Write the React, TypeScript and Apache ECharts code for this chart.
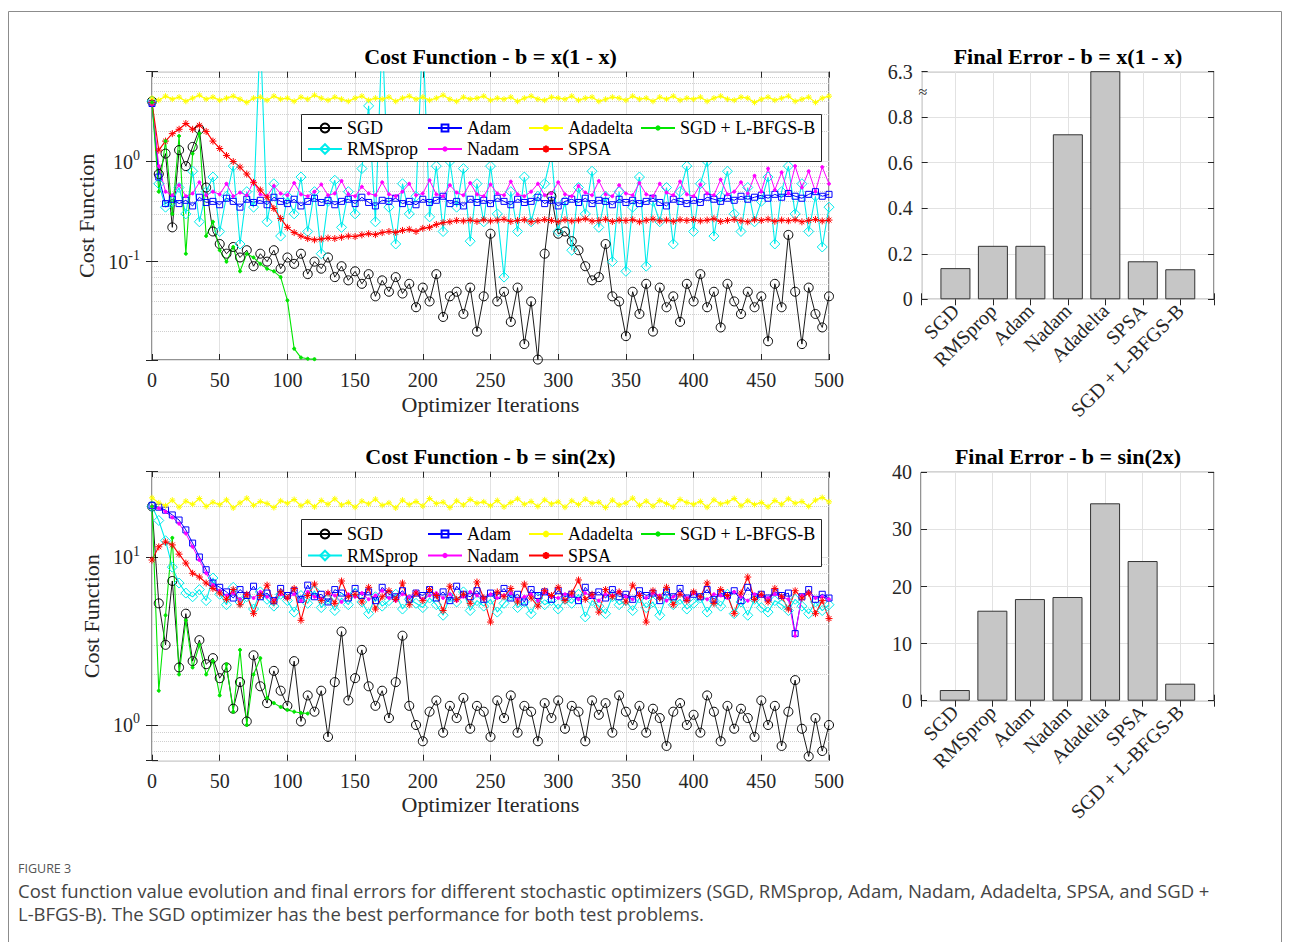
import React, { useEffect, useRef } from 'react';
import * as echarts from 'echarts';

// ---------------- DATA ----------------
const ITER = [
  0, 5, 10, 15, 20, 25, 30, 35, 40, 45,
  50, 55, 60, 65, 70, 75, 80, 85, 90, 95,
  100, 105, 110, 115, 120, 125, 130, 135, 140, 145,
  150, 155, 160, 165, 170, 175, 180, 185, 190, 195,
  200, 205, 210, 215, 220, 225, 230, 235, 240, 245,
  250, 255, 260, 265, 270, 275, 280, 285, 290, 295,
  300, 305, 310, 315, 320, 325, 330, 335, 340, 345,
  350, 355, 360, 365, 370, 375, 380, 385, 390, 395,
  400, 405, 410, 415, 420, 425, 430, 435, 440, 445,
  450, 455, 460, 465, 470, 475, 480, 485, 490, 495,
  500,
];

const OPTIMIZERS = ['SGD', 'RMSprop', 'Adam', 'Nadam', 'Adadelta', 'SPSA', 'SGD + L-BFGS-B'];

// Problem 1: b = x(1 - x)
const T_SGD = [
  4.0, 0.75, 1.2, 0.22, 1.3, 0.9, 1.4, 2.1, 0.55, 0.2,
  0.15, 0.12, 0.14, 0.11, 0.13, 0.09, 0.12, 0.1, 0.13, 0.085,
  0.11, 0.095, 0.12, 0.075, 0.1, 0.085, 0.11, 0.07, 0.09, 0.065,
  0.08, 0.06, 0.075, 0.045, 0.065, 0.05, 0.07, 0.048, 0.06, 0.035,
  0.055, 0.04, 0.075, 0.028, 0.045, 0.05, 0.03, 0.055, 0.02, 0.045,
  0.19, 0.04, 0.05, 0.025, 0.055, 0.015, 0.04, 0.0105, 0.12, 0.45,
  0.19, 0.2, 0.16, 0.13, 0.09, 0.065, 0.07, 0.15, 0.045, 0.04,
  0.018, 0.05, 0.03, 0.06, 0.02, 0.055, 0.035, 0.045, 0.025, 0.06,
  0.04, 0.075, 0.035, 0.05, 0.022, 0.06, 0.04, 0.03, 0.05, 0.035,
  0.045, 0.016, 0.06, 0.035, 0.185, 0.05, 0.015, 0.055, 0.03, 0.022,
  0.045,
];
const T_RMSPROP = [
  4.0, 0.6, 0.35, 0.4, 0.55, 0.3, 0.8, 0.25, 0.5, 0.7,
  0.2, 0.45, 0.9, 0.15, 0.5, 0.35, 20, 0.25, 0.6, 0.18,
  0.45, 0.3, 0.7, 0.2, 0.5, 0.12, 0.4, 0.65, 0.22, 0.5,
  0.3, 0.85, 3.6, 0.25, 20, 0.35, 0.15, 0.6, 0.3, 0.45,
  20, 0.28, 0.9, 0.2, 1.0, 0.35, 0.85, 0.16, 0.6, 0.25,
  0.9, 0.3, 0.07, 0.5, 0.2, 0.7, 0.25, 0.45, 0.6, 1.2,
  0.2, 0.4, 0.13, 0.55, 0.3, 0.8, 0.22, 0.45, 0.1, 0.5,
  0.08, 0.35, 0.7, 0.09, 0.4, 0.25, 0.55, 0.15, 0.5, 0.9,
  0.2, 0.6, 1.0, 0.18, 0.45, 0.8, 0.3, 0.2, 0.55, 0.25,
  0.4, 0.7, 0.15, 0.5, 0.9, 0.3, 0.6, 0.2, 0.45, 0.14,
  0.35,
];
const T_ADAM = [
  3.8, 0.7, 0.38, 0.42, 0.38, 0.41, 0.36, 0.44, 0.39, 0.4,
  0.37, 0.43, 0.4, 0.35, 0.42, 0.39, 0.41, 0.37, 0.44, 0.4,
  0.38, 0.42, 0.36, 0.4, 0.43, 0.39, 0.41, 0.37, 0.4, 0.42,
  0.38, 0.44, 0.39, 0.36, 0.41, 0.4, 0.43, 0.38, 0.4, 0.37,
  0.42, 0.39, 0.41, 0.45, 0.38, 0.4, 0.36, 0.42, 0.39, 0.41,
  0.38, 0.43, 0.4, 0.37, 0.42, 0.39, 0.4, 0.44, 0.38, 0.41,
  0.36, 0.4, 0.42, 0.39, 0.43, 0.38, 0.41, 0.4, 0.37, 0.42,
  0.39, 0.41, 0.38, 0.4, 0.43, 0.39, 0.36, 0.42, 0.4, 0.38,
  0.41, 0.39, 0.44, 0.42, 0.4, 0.43, 0.41, 0.45, 0.42, 0.44,
  0.46, 0.43, 0.47, 0.44, 0.48, 0.45, 0.43, 0.47, 0.5, 0.45,
  0.47,
];
const T_NADAM = [
  3.7, 0.9, 0.5, 0.46, 0.58, 0.45, 0.48, 0.62, 0.46, 0.5,
  0.47, 0.6, 0.45, 0.49, 0.46, 0.63, 0.47, 0.45, 0.57, 0.48,
  0.46, 0.61, 0.47, 0.45, 0.5, 0.59, 0.46, 0.48, 0.64, 0.47,
  0.45, 0.56, 0.48, 0.46, 0.62, 0.47, 0.45, 0.5, 0.6, 0.46,
  0.48, 0.65, 0.47, 0.45, 0.58, 0.49, 0.46, 0.61, 0.47, 0.45,
  0.59, 0.48, 0.46, 0.63, 0.47, 0.45, 0.5, 0.6, 0.46, 0.48,
  0.62, 0.47, 0.45, 0.57, 0.49, 0.46, 0.64, 0.47, 0.45, 0.58,
  0.48, 0.46, 0.61, 0.47, 0.45, 0.6, 0.49, 0.46, 0.63, 0.47,
  0.45, 0.59, 0.48, 0.46, 0.66, 0.47, 0.5, 0.62, 0.48, 0.72,
  0.5, 0.85, 0.52, 0.78, 0.48, 0.9, 0.55, 0.8, 0.5, 0.88,
  0.6,
];
const T_ADADELTA = [
  4.3, 4.1, 4.5, 4.2, 4.4, 4.0, 4.3, 4.6, 4.2, 4.4,
  4.1, 4.3, 4.5, 4.2, 3.9, 4.3, 4.4, 4.1, 4.5, 4.2,
  4.3, 4.0, 4.4, 4.2, 4.6, 4.3, 4.1, 4.4, 4.2, 4.0,
  4.3, 4.5, 4.1, 4.3, 4.2, 4.4, 4.0, 4.3, 4.5, 4.2,
  4.4, 4.1, 4.3, 4.6, 4.2, 4.0, 4.4, 4.2, 4.3, 4.5,
  4.1, 4.3, 4.2, 4.4, 4.0, 4.3, 4.5, 4.2, 4.1, 4.4,
  4.3, 4.2, 4.5, 4.1, 4.3, 4.4, 4.0, 4.2, 4.4, 4.3,
  4.1, 4.5, 4.2, 4.3, 4.0, 4.4, 4.2, 4.5, 4.1, 4.3,
  4.2, 4.4, 4.0, 4.3, 4.5, 4.2, 4.1, 4.4, 4.3, 3.9,
  4.2, 4.4, 4.1, 4.3, 4.5, 4.0, 4.2, 4.4, 3.9, 4.3,
  4.5,
];
const T_SPSA = [
  3.9, 1.3, 1.6, 1.9, 2.1, 2.4, 2.1, 2.3, 2.0, 1.6,
  1.35, 1.15, 1.0, 0.88, 0.75, 0.62, 0.52, 0.44, 0.34, 0.27,
  0.22, 0.195, 0.18, 0.17, 0.165, 0.168, 0.172, 0.17, 0.175, 0.18,
  0.178, 0.185, 0.19, 0.186, 0.195, 0.2, 0.196, 0.205, 0.21, 0.2,
  0.215, 0.22, 0.235, 0.245, 0.25, 0.258, 0.255, 0.26, 0.252, 0.262,
  0.255, 0.26, 0.265, 0.252, 0.258, 0.262, 0.25, 0.256, 0.263, 0.258,
  0.25, 0.262, 0.255, 0.26, 0.268, 0.254, 0.258, 0.265, 0.252, 0.26,
  0.257, 0.262, 0.25, 0.259, 0.266, 0.255, 0.26, 0.253, 0.262, 0.258,
  0.263, 0.255, 0.26, 0.268, 0.252, 0.258, 0.264, 0.256, 0.25, 0.262,
  0.258, 0.265, 0.253, 0.26, 0.256, 0.262, 0.25, 0.258, 0.264, 0.255,
  0.26,
];
const T_LBFGS = [
  3.9, 0.5, 1.6, 0.3, 1.8, 0.12, 1.2, 1.9, 0.18, 0.25,
  0.13, 0.1, 0.14, 0.08, 0.12, 0.11, 0.095, 0.085, 0.08, 0.07,
  0.041, 0.0135, 0.011, 0.0107, 0.0106,
];

// Problem 2: b = sin(2x)
const B_SGD = [
  20, 5.3, 3.0, 7.2, 2.2, 4.6, 2.4, 3.2, 2.3, 2.5,
  1.9, 2.2, 1.25, 1.8, 1.05, 2.6, 1.7, 1.35, 2.1, 1.6,
  1.3, 2.4, 1.05, 1.5, 1.2, 1.6, 0.85, 1.8, 3.6, 1.4,
  1.9, 2.8, 1.7, 1.3, 1.6, 1.1, 1.8, 3.4, 1.3, 1.0,
  0.8, 1.2, 1.4, 0.9, 1.3, 1.1, 1.45, 0.95, 1.3, 1.2,
  0.85, 1.4, 1.1, 1.5, 0.9, 1.3, 1.2, 0.8, 1.35, 1.1,
  1.4, 0.95, 1.3, 1.2, 0.8, 1.4, 1.15, 1.35, 0.9, 1.5,
  1.2, 1.0, 1.3, 0.9, 1.25, 1.1, 0.75, 1.2, 1.35, 1.0,
  1.15, 0.9, 1.5, 1.2, 0.8, 1.3, 0.95, 1.25, 1.1, 0.85,
  1.4, 1.0, 1.3, 0.75, 1.2, 1.85, 0.95, 0.65, 1.1, 0.7,
  1.0,
];
const B_RMSPROP = [
  20, 16.5, 12.5, 8.7, 7.0, 6.1, 5.8, 6.4, 5.5, 7.5,
  6.0, 5.2, 6.6, 5.4, 5.8, 4.9, 6.2, 5.6, 5.1, 6.0,
  5.5, 4.7, 5.9, 5.3, 6.3, 5.0, 5.6, 4.8, 5.7, 5.2,
  6.1, 5.4, 4.6, 5.8, 5.1, 5.5, 6.0, 4.9, 5.6, 5.3,
  5.0, 5.7, 5.2, 4.5, 5.8, 5.4, 6.2, 4.8, 5.5, 5.1,
  5.6, 4.7, 5.3, 5.9, 5.0, 5.4, 4.6, 5.7, 5.2, 5.5,
  4.9, 5.6, 5.3, 6.0, 4.4, 5.5, 5.1, 4.6, 5.8, 5.2,
  5.5, 4.8, 5.7, 5.0, 5.4, 4.5, 5.9, 5.2, 5.6, 4.9,
  5.3, 5.7, 4.7, 5.5, 5.1, 6.0, 4.6, 5.4, 4.5, 5.6,
  5.0, 4.7, 5.5, 5.2, 4.8, 5.6, 5.1, 4.6, 5.4, 4.8,
  5.2,
];
const B_ADAM = [
  20.3, 19.8, 19.0, 17.8, 16.6, 14.5, 12.1, 10.0, 8.4, 7.0,
  6.6, 6.2, 5.7, 6.4, 5.9, 6.7, 5.8, 6.1, 5.5, 6.5,
  5.9, 6.3, 5.6, 6.8, 5.8, 6.0, 5.4, 6.4, 6.1, 5.7,
  6.5, 5.9, 6.2, 5.5, 6.6, 6.0, 5.8, 6.3, 5.6, 6.1,
  5.9, 6.4, 5.7, 6.2, 5.5, 6.7, 6.0, 5.8, 6.3, 5.6,
  6.1, 5.9, 6.5, 5.7, 6.0, 5.4, 6.4, 5.9, 6.2, 5.6,
  6.3, 5.8, 6.0, 5.5, 6.6, 5.9, 6.2, 5.7, 6.4, 5.8,
  6.0, 5.6, 6.3, 5.9, 6.1, 5.5, 6.2, 5.8, 6.5, 5.7,
  6.0, 5.8, 6.4, 5.6, 6.1, 5.9, 6.3, 5.5, 6.6, 5.8,
  6.0, 5.7, 6.2, 5.9, 6.1, 3.5, 5.8, 6.4, 5.6, 6.0,
  5.7,
];
const B_NADAM = [
  20.0, 19.5, 18.6, 17.2, 15.8, 13.8, 11.5, 9.6, 8.0, 6.8,
  6.3, 5.9, 6.1, 5.6, 6.0, 5.7, 6.2, 5.8, 5.5, 6.0,
  5.7, 6.0, 5.5, 6.2, 5.8, 5.6, 6.1, 5.9, 5.4, 6.0,
  5.8, 6.1, 5.6, 5.9, 6.3, 5.7, 5.5, 6.0, 5.8, 6.2,
  5.6, 5.9, 6.1, 5.7, 6.0, 5.5, 5.8, 6.2, 5.9, 5.6,
  6.0, 5.7, 5.9, 6.1, 5.6, 5.8, 6.0, 5.5, 6.2, 5.8,
  5.7, 6.0, 5.9, 5.6, 6.1, 5.8, 5.5, 6.0, 5.9, 6.2,
  5.8, 5.6, 6.0, 5.7, 6.1, 5.9, 5.5, 5.8, 6.0, 5.7,
  6.1, 5.8, 5.6, 6.0, 5.9, 5.7, 6.2, 5.8, 5.5, 6.0,
  5.9, 5.7, 6.0, 5.8, 5.6, 3.4, 5.9, 6.1, 5.7, 5.8,
  5.6,
];
const B_ADADELTA = [
  22.5, 21.0, 20.2, 21.8, 19.8, 21.5, 20.6, 22.3, 20.0, 21.2,
  20.5, 21.9, 19.6, 21.0, 22.4, 20.3, 21.4, 20.8, 19.7, 21.6,
  20.9, 22.0, 20.2, 21.3, 19.9, 21.7, 20.6, 22.2, 20.4, 21.1,
  19.8, 21.5, 20.7, 22.1, 20.3, 21.0, 19.6, 21.8, 20.5, 21.4,
  20.1, 22.3, 20.8, 21.2, 19.7, 21.6, 20.4, 22.0, 20.9, 21.3,
  20.2, 21.7, 19.9, 21.1, 22.2, 20.6, 21.4, 20.0, 21.9, 20.7,
  21.3, 19.8, 21.6, 20.5, 22.1, 20.9, 21.2, 19.7, 21.8, 20.4,
  21.0, 22.4, 20.3, 21.5, 20.1, 21.7, 20.8, 19.9, 22.0, 21.1,
  20.6, 21.4, 19.8, 21.9, 20.7, 21.2, 22.3, 20.2, 21.6, 20.5,
  21.1, 19.9, 21.7, 20.6, 22.2, 20.9, 21.4, 20.0, 21.8, 22.6,
  21.3,
];
const B_SPSA = [
  9.6, 11.5, 12.3, 11.8, 10.4, 9.2, 8.0, 7.6, 7.0, 6.5,
  6.1, 5.6, 6.4, 5.2, 6.0, 4.6, 5.9, 6.8, 5.4, 6.2,
  5.7, 6.5, 4.2, 5.9, 6.9, 5.5, 6.1, 5.3, 7.2, 5.8,
  6.0, 5.4, 6.6, 4.9, 5.8, 6.3, 5.6, 7.0, 5.2, 6.1,
  5.5, 6.4, 5.9, 4.8, 6.7, 5.6, 6.0, 5.3, 7.1, 5.7,
  4.1, 6.2, 5.8, 6.5, 5.4, 6.9, 5.7, 5.1, 6.3, 5.9,
  6.6, 5.5, 6.1, 7.3, 5.6, 6.0, 4.7, 6.4, 5.8, 6.2,
  5.4, 6.8, 5.9, 4.1, 6.3, 5.7, 6.6, 5.2, 6.0, 5.5,
  6.2, 5.8, 7.0, 5.3, 6.4, 5.9, 4.6, 6.1, 7.6, 5.6,
  6.0, 5.4, 6.5, 5.8, 4.9, 6.3, 5.7, 6.1, 4.6, 5.5,
  4.3,
];
const B_LBFGS = [
  20, 1.6, 4.5, 13, 2.0, 4.2, 2.2, 3.0, 2.0, 2.4,
  1.5, 2.3, 1.2, 2.8, 1.0, 2.0, 2.5, 1.45, 1.35, 1.28,
  1.23, 1.2, 1.18, 1.17,
];

// Final errors (bar charts)
const BAR_POS = [1, 2, 3, 4, 5, 6, 7];
const FINAL_ERR_XX = [0.137, 0.235, 0.235, 0.725, 6.3, 0.167, 0.132];
const FINAL_ERR_SIN = [1.87, 15.76, 17.8, 18.16, 34.57, 24.46, 2.98];

// Minor (dotted) log grid levels
const MINOR_XX = [0.02, 0.03, 0.04, 0.05, 0.06, 0.07, 0.08, 0.09, 0.2, 0.3, 0.4, 0.5, 0.6, 0.7, 0.8, 0.9, 2, 3, 4, 5, 6, 7];
const MINOR_SIN = [0.7, 0.8, 0.9, 2, 3, 4, 5, 6, 7, 8, 9, 20, 30];

// ---------------- STYLE ----------------
const SERIF = '"Liberation Serif", "Times New Roman", Times, serif';
const SANS = '"Open Sans", "Noto Sans", sans-serif';
const AX = '#262626';
const GRID_C = '#e2e2e2';
const MINOR_C = '#cfcfcf';
const STAR = 'path://M5,0L5,10M0,5L10,5M1.5,1.5L8.5,8.5M8.5,1.5L1.5,8.5';
const CLEAR = 'rgba(0,0,0,0)';

const STYLES: Record<string, any> = {
  'SGD': { color: '#000000', symbol: 'circle', size: 9, hollow: true, width: 0.9, legendH: 11 },
  'RMSprop': { color: '#00ecec', symbol: 'diamond', size: 10, hollow: true, width: 1.1, legendH: 12 },
  'Adam': { color: '#0000ff', symbol: 'rect', size: 6, hollow: true, width: 1, legendH: 8.5 },
  'Nadam': { color: '#ff00ff', symbol: 'circle', size: 3, hollow: false, width: 1, legendH: 4 },
  'Adadelta': { color: '#ffff00', symbol: STAR, size: 6, hollow: true, width: 1.2, legendH: 8 },
  'SPSA': { color: '#ff0000', symbol: STAR, size: 7, hollow: true, width: 1.1, legendH: 9 },
  'SGD + L-BFGS-B': { color: '#00e600', symbol: 'circle', size: 3, hollow: false, width: 1.1, legendH: 4 },
};

function lineSeries(name: string, values: number[], axisIndex: number) {
  const s = STYLES[name];
  return {
    name,
    type: 'line',
    xAxisIndex: axisIndex,
    yAxisIndex: axisIndex,
    data: values.map((v, i) => [ITER[i], v]),
    symbol: s.symbol,
    symbolSize: s.size,
    showSymbol: true,
    showAllSymbol: true,
    clip: true,
    lineStyle: { color: s.color, width: s.width },
    itemStyle: { color: s.hollow ? CLEAR : s.color, borderColor: s.color, borderWidth: 1 },
    emphasis: { disabled: true },
    z: 2,
  };
}

function minorGridSeries(levels: number[], axisIndex: number) {
  return {
    type: 'line',
    xAxisIndex: axisIndex,
    yAxisIndex: axisIndex,
    data: [],
    silent: true,
    z: 1,
    markLine: {
      silent: true,
      z: 1,
      symbol: ['none', 'none'],
      label: { show: false },
      lineStyle: { type: 'dotted', color: MINOR_C, width: 1 },
      emphasis: { disabled: true },
      data: levels.map((v) => ({ yAxis: v })),
    },
  };
}

const isPow10 = (v: number) => {
  const l = Math.log10(v);
  return Math.abs(l - Math.round(l)) < 1e-6;
};
const logLabel = (v: number) => (isPow10(v) ? `{b|10}{e|${Math.round(Math.log10(v))}}` : '');

const tickStyle = { inside: true, length: 6, lineStyle: { color: AX, width: 1 } };
const labelBase = { color: AX, fontFamily: SERIF, fontSize: 20 };

function iterXAxes(gridIndex: number) {
  return [
    {
      type: 'value', gridIndex, min: 0, max: 500, interval: 50, position: 'bottom',
      axisLine: { show: false }, axisTick: tickStyle,
      axisLabel: { ...labelBase, margin: 10 },
      splitLine: { show: true, lineStyle: { color: GRID_C, width: 1 } },
      name: 'Optimizer Iterations', nameLocation: 'middle', nameGap: 33,
      nameTextStyle: { color: AX, fontFamily: SERIF, fontSize: 22 },
    },
    {
      type: 'value', gridIndex, min: 0, max: 500, interval: 50, position: 'top',
      axisLine: { show: false }, axisTick: tickStyle, axisLabel: { show: false }, splitLine: { show: false },
    },
  ];
}

function logYAxes(gridIndex: number, min: number, max: number) {
  return [
    {
      type: 'log', logBase: 10, gridIndex, min, max, position: 'left',
      axisLine: { show: false }, axisTick: tickStyle,
      axisLabel: {
        formatter: logLabel, margin: 12,
        rich: {
          b: { fontFamily: SERIF, fontSize: 20, color: AX },
          e: { fontFamily: SERIF, fontSize: 14, color: AX, padding: [0, 0, 12, 0] },
        },
      },
      splitLine: { show: true, lineStyle: { color: GRID_C, width: 1 } },
      name: 'Cost Function', nameLocation: 'middle', nameGap: 48,
      nameTextStyle: { color: AX, fontFamily: SERIF, fontSize: 22 },
    },
    {
      type: 'log', logBase: 10, gridIndex, min, max, position: 'right',
      axisLine: { show: false }, axisTick: tickStyle, axisLabel: { show: false }, splitLine: { show: false },
    },
  ];
}

function barXAxes(gridIndex: number) {
  return [
    {
      type: 'value', gridIndex, min: 0.1, max: 7.9, splitNumber: 8, position: 'bottom',
      axisLine: { show: false }, axisTick: tickStyle,
      axisLabel: {
        ...labelBase, margin: 8, rotate: 45,
        formatter: (v: number) => {
          const i = BAR_POS.indexOf(Math.round(v * 1000) / 1000);
          return i >= 0 ? OPTIMIZERS[i] : '';
        },
      },
      splitLine: { show: true, lineStyle: { color: GRID_C, width: 1 } },
    },
    {
      type: 'value', gridIndex, min: 0.1, max: 7.9, splitNumber: 8, position: 'top',
      axisLine: { show: false }, axisTick: tickStyle, axisLabel: { show: false }, splitLine: { show: false },
    },
  ];
}

function barYAxes(gridIndex: number, max: number, interval: number, fmt: (v: number) => string) {
  return [
    {
      type: 'value', gridIndex, min: 0, max, interval, position: 'left',
      axisLine: { show: false }, axisTick: tickStyle,
      axisLabel: { ...labelBase, margin: 9, formatter: fmt },
      splitLine: { show: true, lineStyle: { color: GRID_C, width: 1 } },
    },
    {
      type: 'value', gridIndex, min: 0, max, interval, position: 'right',
      axisLine: { show: false }, axisTick: tickStyle, axisLabel: { show: false }, splitLine: { show: false },
    },
  ];
}

// one legend component per entry so that each entry's marker keeps its own size;
// a fixed text line height (20) keeps every entry centred on its row.
function legends(row1: number, row2: number) {
  const layout: [string, number, number][] = [
    ['SGD', 307, row1], ['RMSprop', 307, row2],
    ['Adam', 427, row1], ['Nadam', 427, row2],
    ['Adadelta', 528, row1], ['SPSA', 528, row2],
    ['SGD + L-BFGS-B', 640, row1],
  ];
  return layout.map(([name, left, cy]) => ({
    orient: 'vertical', left, top: cy - 10, padding: 0,
    itemWidth: 34, itemHeight: STYLES[name].legendH, selectedMode: false, z: 20,
    textStyle: { fontFamily: SERIF, fontSize: 18, color: '#000', lineHeight: 20, height: 20 },
    data: [name],
  }));
}

const titleStyle = { fontFamily: SERIF, fontSize: 22, fontWeight: 'bold', color: '#000', lineHeight: 22 };

export default function App() {
  const ref = useRef<HTMLDivElement>(null);

  useEffect(() => {
    if (!ref.current) return;
    const chart = echarts.init(ref.current, null, { renderer: 'svg' });

    const grid = [
      { left: 152, top: 71.7, width: 677, height: 288.3 },
      { left: 921.7, top: 71.7, width: 292.3, height: 227.6 },
      { left: 152, top: 471.7, width: 677, height: 289 },
      { left: 921, top: 472.3, width: 293, height: 228.4 },
    ].map((g) => ({ ...g, show: true, borderColor: AX, borderWidth: 1, backgroundColor: 'transparent', containLabel: false }));

    const xAxis = [...iterXAxes(0), ...barXAxes(1), ...iterXAxes(2), ...barXAxes(3)];
    const yAxis = [
      ...logYAxes(0, 0.0104, 7.9),
      ...barYAxes(1, 1, 0.2, (v: number) => (v > 0.99 ? '6.3' : v === 0 ? '0' : String(Math.round(v * 10) / 10))),
      ...logYAxes(2, 0.613, 32.2),
      ...barYAxes(3, 40, 10, (v: number) => String(v)),
    ];

    const topSets = [T_SGD, T_RMSPROP, T_ADAM, T_NADAM, T_ADADELTA, T_SPSA, T_LBFGS];
    const botSets = [B_SGD, B_RMSPROP, B_ADAM, B_NADAM, B_ADADELTA, B_SPSA, B_LBFGS];

    const barStyle = { color: '#c6c6c6', borderColor: '#333333', borderWidth: 1 };

    const series: any[] = [
      minorGridSeries(MINOR_XX, 0),
      ...OPTIMIZERS.map((n, i) => lineSeries(n, topSets[i], 0)),
      {
        type: 'bar', xAxisIndex: 2, yAxisIndex: 2, barWidth: 30, clip: true,
        data: BAR_POS.map((p, i) => [p, FINAL_ERR_XX[i]]), itemStyle: barStyle, emphasis: { disabled: true },
      },
      minorGridSeries(MINOR_SIN, 4),
      ...OPTIMIZERS.map((n, i) => lineSeries(n, botSets[i], 4)),
      {
        type: 'bar', xAxisIndex: 6, yAxisIndex: 6, barWidth: 30, clip: true,
        data: BAR_POS.map((p, i) => [p, FINAL_ERR_SIN[i]]), itemStyle: barStyle, emphasis: { disabled: true },
      },
    ];

    const option: any = {
      animation: false,
      backgroundColor: '#ffffff',
      title: [
        { text: 'Cost Function - b = x(1 - x)', left: 490.5, top: 45, textAlign: 'center', padding: 0, textStyle: titleStyle },
        { text: 'Final Error - b = x(1 - x)', left: 1068, top: 45, textAlign: 'center', padding: 0, textStyle: titleStyle },
        { text: 'Cost Function - b = sin(2x)', left: 490.5, top: 445, textAlign: 'center', padding: 0, textStyle: titleStyle },
        { text: 'Final Error - b = sin(2x)', left: 1068, top: 445, textAlign: 'center', padding: 0, textStyle: titleStyle },
      ],
      legend: [...legends(128, 149), ...legends(534, 555.5)],
      grid,
      xAxis,
      yAxis,
      series,
      graphic: [
        { type: 'rect', silent: true, z: 0, shape: { x: 8.5, y: 11.5, width: 1273, height: 980 }, style: { fill: 'none', stroke: '#8c8c8c', lineWidth: 1 } },
        { type: 'rect', silent: true, z: 10, shape: { x: 301.5, y: 114.5, width: 520, height: 47 }, style: { fill: '#ffffff', stroke: AX, lineWidth: 1 } },
        { type: 'rect', silent: true, z: 10, shape: { x: 301.5, y: 519.5, width: 520, height: 47 }, style: { fill: '#ffffff', stroke: AX, lineWidth: 1 } },
        { type: 'text', silent: true, z: 10, x: 923, y: 91, style: { text: '≈', fontFamily: SERIF, fontSize: 16, fill: AX, align: 'center', verticalAlign: 'middle', textAlign: 'center', textVerticalAlign: 'middle' } },
        { type: 'text', silent: true, z: 10, x: 18, y: 868, style: { text: 'FIGURE 3', fontFamily: SANS, fontSize: 12.5, fill: '#555555', verticalAlign: 'middle', textVerticalAlign: 'middle' } },
        { type: 'text', silent: true, z: 10, x: 18, y: 890, style: { text: 'Cost function value evolution and final errors for different stochastic optimizers (SGD, RMSprop, Adam, Nadam, Adadelta, SPSA, and SGD +', fontFamily: SANS, fontSize: 18.5, fill: '#444444', verticalAlign: 'middle', textVerticalAlign: 'middle' } },
        { type: 'text', silent: true, z: 10, x: 18, y: 913, style: { text: 'L-BFGS-B). The SGD optimizer has the best performance for both test problems.', fontFamily: SANS, fontSize: 18.5, fill: '#444444', verticalAlign: 'middle', textVerticalAlign: 'middle' } },
      ],
    };

    chart.setOption(option);
    return () => chart.dispose();
  }, []);

  return (
    <div
      ref={ref}
      style={{ position: 'absolute', left: 0, top: 0, width: 1290, height: 942, background: '#ffffff' }}
    />
  );
}
